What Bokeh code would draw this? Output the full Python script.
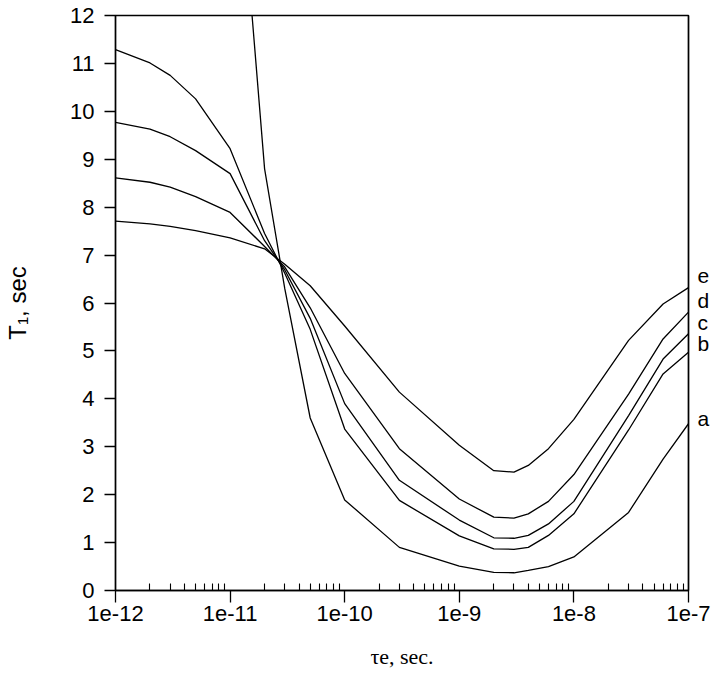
from bokeh.plotting import figure
from bokeh.models import FixedTicker, CustomJSTickFormatter, LinearAxis
from bokeh.embed import file_html
from bokeh.resources import INLINE

# ---- data ----
tau_e = [1e-12, 2e-12, 3e-12, 5e-12, 1e-11, 2e-11, 3e-11, 5e-11, 1e-10, 3e-10,
         1e-9, 2e-9, 3e-9, 4e-9, 6e-9, 1e-8, 3e-8, 6e-8, 1e-7]

t1_a = [90.0, 60.0, 45.0, 30.0, 17.6, 8.80, 6.30, 3.60, 1.89, 0.90,
        0.51, 0.38, 0.37, 0.42, 0.50, 0.70, 1.63, 2.74, 3.48]
t1_b = [11.29, 11.01, 10.75, 10.26, 9.22, 7.45, 6.62, 5.45, 3.37, 1.88,
        1.14, 0.87, 0.86, 0.90, 1.15, 1.60, 3.35, 4.52, 4.97]
t1_c = [9.77, 9.63, 9.47, 9.18, 8.70, 7.30, 6.69, 5.68, 3.90, 2.30,
        1.47, 1.10, 1.09, 1.15, 1.39, 1.86, 3.65, 4.83, 5.36]
t1_d = [8.61, 8.52, 8.42, 8.22, 7.89, 7.18, 6.75, 5.90, 4.53, 2.96,
        1.91, 1.53, 1.51, 1.60, 1.86, 2.42, 4.10, 5.25, 5.81]
t1_e = [7.71, 7.65, 7.60, 7.51, 7.36, 7.13, 6.81, 6.36, 5.52, 4.14,
        3.03, 2.50, 2.47, 2.61, 2.96, 3.57, 5.22, 5.98, 6.32]

series = [t1_a, t1_b, t1_c, t1_d, t1_e]
curve_names = ["a", "b", "c", "d", "e"]
curve_label_y = [3.58, 5.15, 5.60, 6.05, 6.57]

x_ticks = [1e-12, 1e-11, 1e-10, 1e-9, 1e-8, 1e-7]
x_tick_labels = ["1e-12", "1e-11", "1e-10", "1e-9", "1e-8", "1e-7"]
y_ticks = [0, 1, 2, 3, 4, 5, 6, 7, 8, 9, 10, 11, 12]

x_title = "\u03c4e, sec."
y_title = "T\u2081, sec"

# ---- figure ----
p = figure(width=712, height=676, x_axis_type="log",
           x_range=(1e-12, 1e-7), y_range=(0, 12),
           output_backend="svg", toolbar_location=None,
           min_border_left=115, min_border_top=15,
           min_border_right=23, min_border_bottom=86)
p.xgrid.visible = False
p.ygrid.visible = False
p.outline_line_color = "black"
p.outline_line_width = 1.4
p.background_fill_color = "white"
p.border_fill_color = "white"

for ys in series:
    p.line(tau_e, ys, line_color="black", line_width=1.3)

minor = [m * t for t in x_ticks[:-1] for m in range(2, 10)]

xa = p.xaxis[0]
xa.ticker = FixedTicker(ticks=x_ticks, minor_ticks=minor)
xa.formatter = CustomJSTickFormatter(args=dict(tvals=x_ticks, tlabels=x_tick_labels), code="""
let best = 0, bd = Infinity;
for (let i = 0; i < tvals.length; i++) {
  const d = Math.abs(Math.log10(tick) - Math.log10(tvals[i]));
  if (d < bd) { bd = d; best = i; }
}
return tlabels[best];
""")
xa.major_tick_out = 12
xa.major_tick_in = 0
xa.minor_tick_in = 7
xa.minor_tick_out = 0
xa.axis_line_color = "black"
xa.axis_line_width = 1.4
xa.major_tick_line_color = "black"
xa.major_tick_line_width = 1.3
xa.minor_tick_line_color = "black"
xa.minor_tick_line_width = 1.1
xa.major_label_text_font = "Liberation Sans"
xa.major_label_text_font_size = "22px"
xa.major_label_text_color = "black"
xa.major_label_standoff = 3
xa.axis_label = x_title
xa.axis_label_text_font = "Liberation Serif"
xa.axis_label_text_font_style = "normal"
xa.axis_label_text_font_size = "22px"
xa.axis_label_text_color = "black"
xa.axis_label_standoff = 20

ya = p.yaxis[0]
ya.ticker = FixedTicker(ticks=y_ticks, minor_ticks=[])
ya.major_tick_out = 11
ya.major_tick_in = 0
ya.minor_tick_in = 0
ya.minor_tick_out = 0
ya.axis_line_color = "black"
ya.axis_line_width = 1.4
ya.major_tick_line_color = "black"
ya.major_tick_line_width = 1.3
ya.major_label_text_font = "Liberation Sans"
ya.major_label_text_font_size = "22px"
ya.major_label_text_color = "black"
ya.major_label_standoff = 10
ya.axis_label = y_title
ya.axis_label_text_font = "Liberation Sans"
ya.axis_label_text_font_style = "normal"
ya.axis_label_text_font_size = "24px"
ya.axis_label_text_color = "black"
ya.axis_label_standoff = 36

# right-hand curve labels a..e, carried by a right axis (also the right spine)
ra = LinearAxis(ticker=FixedTicker(ticks=curve_label_y, minor_ticks=[]),
                formatter=CustomJSTickFormatter(
                    args=dict(lvals=curve_label_y, lnames=curve_names), code="""
let best = 0, bd = Infinity;
for (let i = 0; i < lvals.length; i++) {
  const d = Math.abs(tick - lvals[i]);
  if (d < bd) { bd = d; best = i; }
}
return lnames[best];
"""))
ra.major_tick_out = 0
ra.major_tick_in = 0
ra.minor_tick_in = 0
ra.minor_tick_out = 0
ra.axis_line_color = "black"
ra.axis_line_width = 1.4
ra.major_label_text_font = "Liberation Sans"
ra.major_label_text_font_size = "21px"
ra.major_label_text_color = "black"
ra.major_label_standoff = 9
p.add_layout(ra, "right")

open("out.html", "w").write(file_html(p, INLINE))
